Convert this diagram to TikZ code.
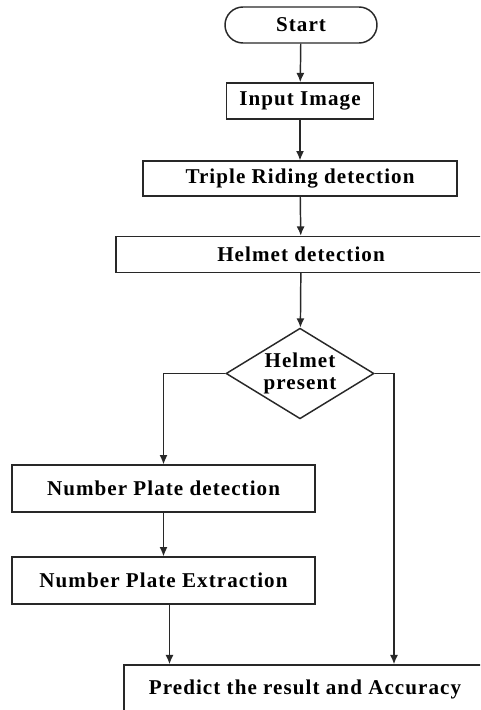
\documentclass[tikz,border=0pt]{standalone}
\usepackage{fontspec}
\usepackage{tikz}
\usetikzlibrary{arrows.meta,shapes}
\newfontfamily\flowfont{Liberation Serif}[LetterSpace=5]
\definecolor{edge}{RGB}{40,40,40}

\begin{document}
\begin{tikzpicture}[x=0.75pt, y=-0.75pt,
  box/.style={draw=edge, line width=1.1pt, minimum height=26pt, inner sep=0pt,
    font=\flowfont\bfseries\fontsize{15.8}{16.5}\selectfont, align=center},
  term/.style={box, rounded corners=13.5pt},
  decide/.style={box, diamond, aspect=1.6, minimum width=111pt, minimum height=68pt},
  arr/.style={-{Latex[length=7pt, width=6pt]}, draw=edge, line width=1.1pt},
]
\useasboundingbox (0,0) rectangle (480,710);
\clip (0,0) rectangle (480,710);
\fill[white] (0,0) rectangle (480,710);

\node[term, minimum width=114pt, minimum height=27pt] (start) at (301,25) {Start};
\node[box, minimum width=110pt, minimum height=27pt] (input) at (300,101) {Input Image};
\node[box, minimum width=235.5pt] (triple) at (300,178.5) {Triple Riding detection};
\node[box, minimum width=277.5pt, minimum height=27pt] (helmet) at (301,254.5) {Helmet detection};
\node[decide] (present) at (300,373.5) {Helmet\\present};
\node[box, minimum width=227pt, minimum height=35pt] (npdetect) at (163.5,488.5) {Number Plate detection};
\node[box, minimum width=227pt, minimum height=35pt] (npextract) at (163.5,580.5) {Number Plate Extraction};
\node[box, minimum width=271.5pt, minimum height=36pt] (predict) at (305,689) {Predict the result and Accuracy};
\coordinate (rturn) at (394,373.5);

\draw[arr] (start) -- (input);
\draw[arr] (input) -- (triple);
\draw[arr] (triple) -- (helmet);
\draw[arr] (helmet) -- (present);
\draw[arr] (present.west) -| (npdetect.north);
\draw[arr] (npdetect) -- (npextract);
\draw[arr] (present.east) -- (rturn) -- (rturn |- predict.north);
\draw[arr] ([xshift=4.5pt]npextract.south) -- ([xshift=4.5pt]npextract.south |- predict.north);
\end{tikzpicture}
\end{document}
